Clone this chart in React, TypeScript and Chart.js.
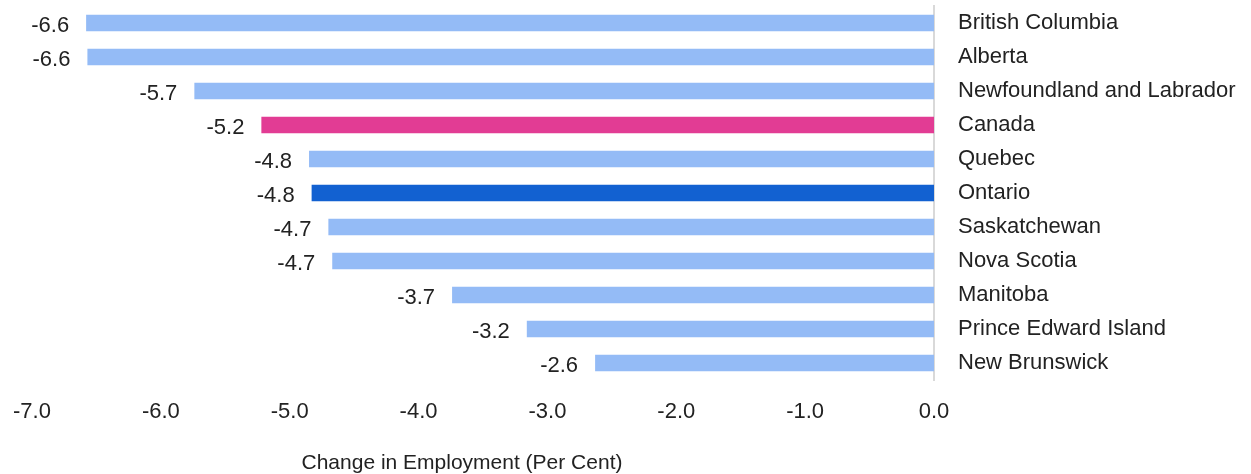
import React, { useEffect, useRef } from "react";
import { Chart, registerables } from "chart.js";

Chart.register(...registerables);

const provinces: string[] = [
  "British Columbia",
  "Alberta",
  "Newfoundland and Labrador",
  "Canada",
  "Quebec",
  "Ontario",
  "Saskatchewan",
  "Nova Scotia",
  "Manitoba",
  "Prince Edward Island",
  "New Brunswick",
];

const employmentChange: number[] = [-6.58, -6.57, -5.74, -5.22, -4.85, -4.83, -4.7, -4.67, -3.74, -3.16, -2.63];

const dataLabels: string[] = ["-6.6", "-6.6", "-5.7", "-5.2", "-4.8", "-4.8", "-4.7", "-4.7", "-3.7", "-3.2", "-2.6"];

const axisTitle = "Change in Employment (Per Cent)";

const LIGHT = "#94bbf6";
const PINK = "#e23c94";
const DARK = "#1261d1";
const TEXT = "#222222";
const FONT = "'Liberation Sans', Arial, Helvetica, sans-serif";

const barColors = provinces.map((p) => (p === "Canada" ? PINK : p === "Ontario" ? DARK : LIGHT));

export default function App() {
  const ref = useRef<HTMLCanvasElement | null>(null);

  useEffect(() => {
    if (!ref.current) return;

    const labelPlugin = {
      id: "valueLabels",
      afterDatasetsDraw(chart: any) {
        const ctx = chart.ctx;
        const meta = chart.getDatasetMeta(0);
        ctx.save();
        ctx.font = `22px ${FONT}`;
        ctx.fillStyle = TEXT;
        ctx.textAlign = "right";
        ctx.textBaseline = "middle";
        meta.data.forEach((el: any, i: number) => {
          ctx.fillText(dataLabels[i], el.x - 17, el.y + 3);
        });
        ctx.restore();
      },
    };

    const titlePlugin = {
      id: "axisTitle",
      afterDraw(chart: any) {
        const ctx = chart.ctx;
        ctx.save();
        ctx.font = `21px ${FONT}`;
        ctx.fillStyle = TEXT;
        ctx.textAlign = "center";
        ctx.textBaseline = "middle";
        const x = chart.chartArea.left + (chart.chartArea.right - chart.chartArea.left) * 0.4767;
        ctx.fillText(axisTitle, x, chart.height - 11);
        ctx.restore();
      },
    };

    const chart = new Chart(ref.current, {
      type: "bar",
      data: {
        labels: provinces,
        datasets: [
          {
            data: employmentChange,
            backgroundColor: barColors,
            borderWidth: 0,
            categoryPercentage: 1,
            barPercentage: 0.48,
          },
        ],
      },
      options: {
        indexAxis: "y",
        animation: false,
        responsive: false,
        maintainAspectRatio: false,
        layout: { padding: { top: 6, left: 32, right: 0, bottom: 0 } },
        plugins: {
          legend: { display: false },
          tooltip: { enabled: false },
        },
        scales: {
          x: {
            type: "linear",
            min: -7,
            max: 0,
            grid: { display: false, drawTicks: false },
            border: { display: false },
            ticks: {
              stepSize: 1,
              padding: 19,
              color: TEXT,
              font: { family: FONT, size: 22 },
              callback: (v: any) => Number(v).toFixed(1),
            },
            afterFit: (scale: any) => {
              scale.height = 94;
              scale.paddingLeft = 0;
              scale.paddingRight = 0;
            },
          },
          y: {
            type: "category",
            position: "right",
            grid: { display: false, drawTicks: false },
            border: { display: true, color: "#d9d9d9", width: 2 },
            ticks: {
              padding: 24,
              color: TEXT,
              font: { family: FONT, size: 22 },
            },
            afterFit: (scale: any) => {
              scale.width = 317;
              scale.paddingTop = 0;
              scale.paddingBottom = 0;
            },
          },
        },
      },
      plugins: [labelPlugin, titlePlugin],
    } as any);

    return () => chart.destroy();
  }, []);

  return (
    <div style={{ position: "absolute", left: 0, top: 0, width: 1251, height: 474, background: "#ffffff" }}>
      <canvas ref={ref} width={1251} height={474} style={{ display: "block" }} />
    </div>
  );
}
